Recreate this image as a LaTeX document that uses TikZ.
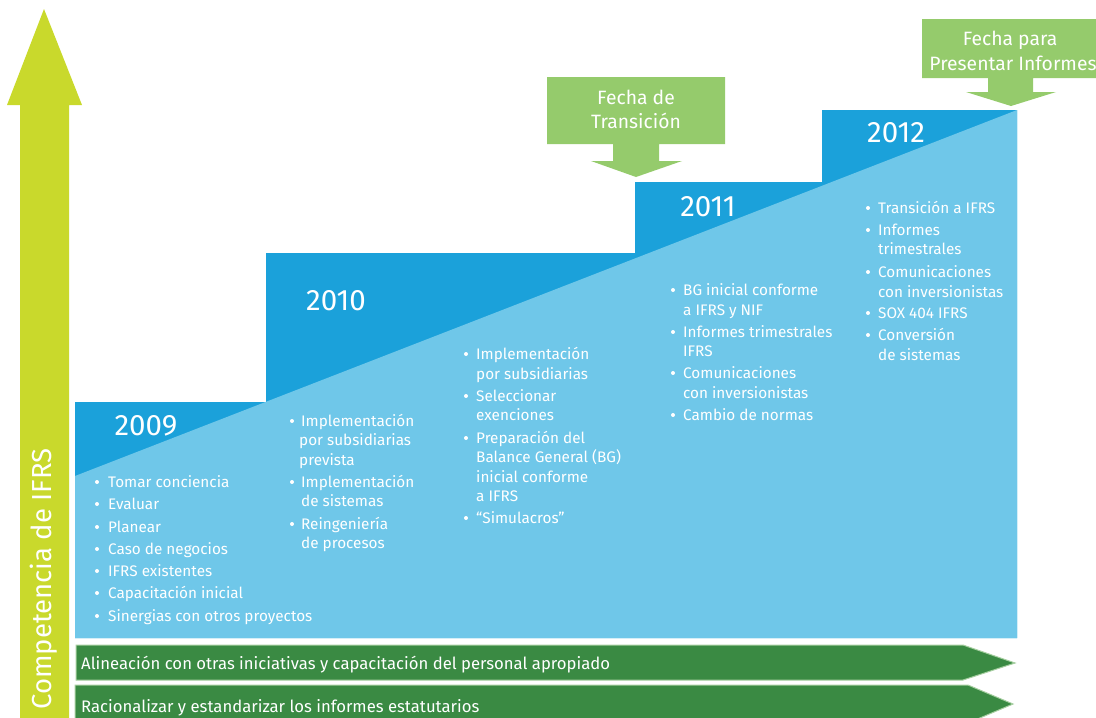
\documentclass[tikz,border=0pt]{standalone}
\usepackage{fontspec}
\setmainfont{Fira Sans}
\definecolor{dblue}{HTML}{1BA1DA}
\definecolor{lblue}{HTML}{6FC7E9}
\definecolor{lime}{HTML}{C9D92C}
\definecolor{callg}{HTML}{95CB6C}
\definecolor{barg}{HTML}{3A8A43}
\definecolor{barline}{HTML}{A6CFA0}
\newcommand\bitem[5]{%
  \fill[white] (#2,#4+1) circle (2);
  \node[txt] (#1) at (#3,#4+6) {#5};}
\newcommand\cont[4]{%
  \node[txt] (#1) at (#2,#3+6) {#4};}
\begin{document}
\begin{tikzpicture}[x=1pt,y=-1pt,
  txt/.style={text=white,font=\fontsize{15.3}{18}\selectfont,inner sep=0pt,anchor=base west},
  year/.style={text=white,font=\fontsize{29.5}{32}\selectfont,inner sep=0pt,anchor=base},
  calltxt/.style={text=white,font=\fontsize{19.3}{22}\selectfont,inner sep=0pt,anchor=base},
  bartxt/.style={text=white,font=\fontsize{16.7}{19}\selectfont,inner sep=0pt,anchor=base west}]
\useasboundingbox (0,0) rectangle (1096,718);
% left arrow
\fill[lime] (20,718) -- (20,105) -- (7,105) -- (44,9) -- (82,105) -- (69,105) -- (69,718) -- cycle;
\node[text=white,font=\fontsize{27.5}{30}\selectfont,rotate=90,inner sep=0pt] (comp) at (44,579) {Competencia de IFRS};
% stairs
\fill[dblue] (75,638) -- (75,402) -- (266,402) -- (266,253) -- (635,253) -- (635,182) -- (822,182) -- (822,110) -- (1017,110) -- (1017,638) -- cycle;
\fill[lblue] (75,476) -- (1017,110) -- (1017,638) -- (75,638) -- cycle;
% callouts
\fill[callg] (547,77) -- (725,77) -- (725,144) -- (659,144) -- (659,161) -- (682,161) -- (636,177) -- (591,161) -- (613,161) -- (613,144) -- (547,144) -- cycle;
\node[calltxt] (ft1) at (636,104) {Fecha de};
\node[calltxt] (ft2) at (636,128) {Transición};
\fill[callg] (922,19) -- (1100,19) -- (1100,78) -- (1033,78) -- (1033,92) -- (1056,92) -- (1011,106) -- (966,92) -- (988,92) -- (988,78) -- (922,78) -- cycle;
\node[calltxt] (fp1) at (1010,45) {Fecha para};
\node[calltxt] (fp2) at (1013,70) {Presentar Informes};
% years
\node[year] (y2009) at (146,435) {2009};
\node[year] (y2010) at (336,310) {2010};
\node[year] (y2011) at (708,216) {2011};
\node[year] (y2012) at (896,142) {2012};
% column 2009
\bitem{a1}{97}{108}{481}{Tomar conciencia}
\bitem{a2}{97}{108}{503}{Evaluar}
\bitem{a3}{97}{108}{526}{Planear}
\bitem{a4}{97}{108}{548}{Caso de negocios}
\bitem{a5}{97}{108}{570}{IFRS existentes}
\bitem{a6}{97}{108}{592}{Capacitación inicial}
\bitem{a7}{97}{108}{615}{Sinergias con otros proyectos}
% column 2010
\bitem{b1}{292}{301}{420}{Implementación}
\cont{b2}{299}{439}{por subsidiarias}
\cont{b3}{299}{459}{prevista}
\bitem{b4}{292}{301}{481}{Implementación}
\cont{b5}{301}{500}{de sistemas}
\bitem{b6}{292}{301}{523}{Reingeniería}
\cont{b7}{301}{542}{de procesos}
% column 3
\bitem{c1}{466}{476}{353}{Implementación}
\cont{c2}{476}{373}{por subsidiarias}
\bitem{c3}{466}{476}{395}{Seleccionar}
\cont{c4}{476}{414}{exenciones}
\bitem{c5}{466}{476}{437}{Preparación del}
\cont{c6}{476}{456}{Balance General (BG)}
\cont{c7}{476}{476}{inicial conforme}
\cont{c8}{476}{495}{a IFRS}
\bitem{c9}{466}{476}{517}{“Simulacros”}
% column 2011
\bitem{d1}{673}{683}{289}{BG inicial conforme}
\cont{d2}{683}{309}{a IFRS y NIF}
\bitem{d3}{673}{683}{331}{Informes trimestrales}
\cont{d4}{683}{350}{IFRS}
\bitem{d5}{673}{683}{372}{Comunicaciones}
\cont{d6}{683}{392}{con inversionistas}
\bitem{d7}{673}{683}{414}{Cambio de normas}
% column 2012
\bitem{e1}{868}{878}{207}{Transición a IFRS}
\bitem{e2}{868}{878}{229}{Informes}
\cont{e3}{878}{248}{trimestrales}
\bitem{e4}{868}{878}{271}{Comunicaciones}
\cont{e5}{878}{291}{con inversionistas}
\bitem{e6}{868}{878}{312}{SOX 404 IFRS}
\bitem{e7}{868}{878}{334}{Conversión}
\cont{e8}{878}{354}{de sistemas}
% bars
\filldraw[fill=barg,draw=barline,line width=1pt] (76,645) -- (963,645) -- (1015,663) -- (963,680) -- (76,680) -- cycle;
\filldraw[fill=barg,draw=barline,line width=1pt] (75,685) -- (968,685) -- (1013,704) -- (968,723) -- (75,723) -- cycle;
\node[bartxt] (bar1) at (81,669) {Alineación con otras iniciativas y capacitación del personal apropiado};
\node[bartxt] (bar2) at (81,712) {Racionalizar y estandarizar los informes estatutarios};
\end{tikzpicture}
\end{document}
